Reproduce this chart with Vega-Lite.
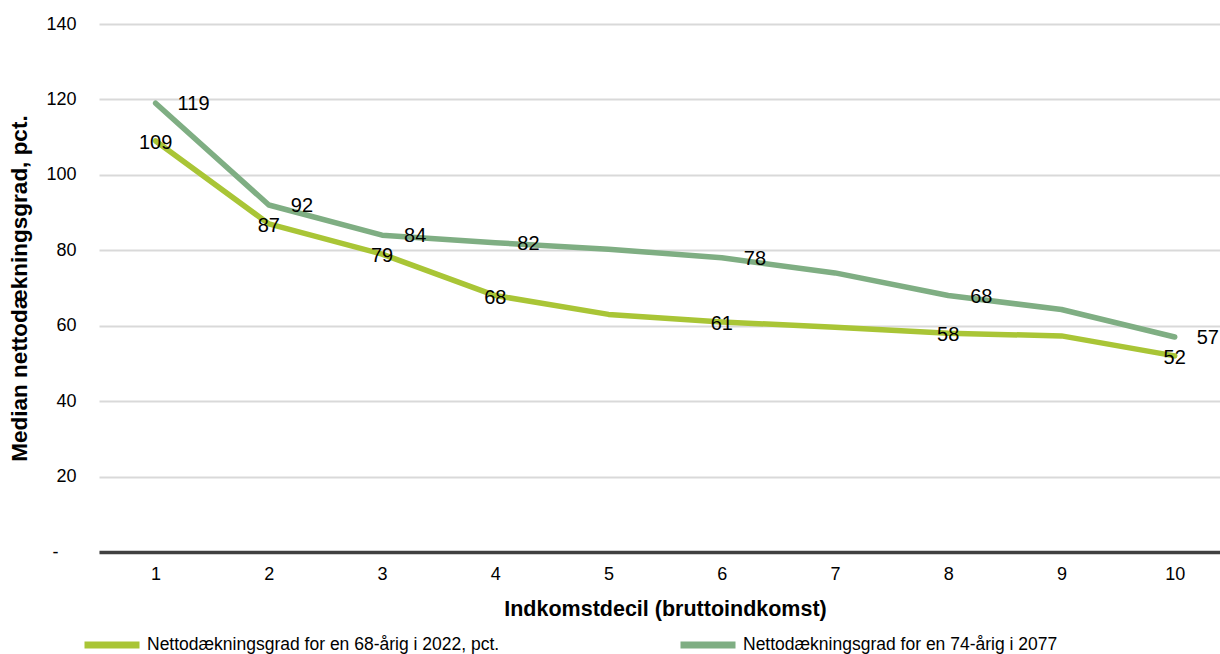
{
  "$schema": "https://vega.github.io/schema/vega-lite/v6.json",
  "autosize": {"type": "none"},
  "width": 1121,
  "height": 528,
  "padding": {"left": 99, "top": 24, "right": 0, "bottom": 102},
  "background": "white",
  "config": {
    "font": "Liberation Sans",
    "view": {"stroke": null}
  },
  "data": {
    "values": [
      {"decil": 1, "serie": "Nettodækningsgrad for en 68-årig i 2022, pct.", "vaerdi": 109},
      {"decil": 2, "serie": "Nettodækningsgrad for en 68-årig i 2022, pct.", "vaerdi": 87},
      {"decil": 3, "serie": "Nettodækningsgrad for en 68-årig i 2022, pct.", "vaerdi": 79},
      {"decil": 4, "serie": "Nettodækningsgrad for en 68-årig i 2022, pct.", "vaerdi": 68},
      {"decil": 5, "serie": "Nettodækningsgrad for en 68-årig i 2022, pct.", "vaerdi": 63},
      {"decil": 6, "serie": "Nettodækningsgrad for en 68-årig i 2022, pct.", "vaerdi": 61},
      {"decil": 7, "serie": "Nettodækningsgrad for en 68-årig i 2022, pct.", "vaerdi": 59.6},
      {"decil": 8, "serie": "Nettodækningsgrad for en 68-årig i 2022, pct.", "vaerdi": 58},
      {"decil": 9, "serie": "Nettodækningsgrad for en 68-årig i 2022, pct.", "vaerdi": 57.3},
      {"decil": 10, "serie": "Nettodækningsgrad for en 68-årig i 2022, pct.", "vaerdi": 52},
      {"decil": 1, "serie": "Nettodækningsgrad for en 74-årig i 2077", "vaerdi": 119},
      {"decil": 2, "serie": "Nettodækningsgrad for en 74-årig i 2077", "vaerdi": 92},
      {"decil": 3, "serie": "Nettodækningsgrad for en 74-årig i 2077", "vaerdi": 84},
      {"decil": 4, "serie": "Nettodækningsgrad for en 74-årig i 2077", "vaerdi": 82},
      {"decil": 5, "serie": "Nettodækningsgrad for en 74-årig i 2077", "vaerdi": 80.3},
      {"decil": 6, "serie": "Nettodækningsgrad for en 74-årig i 2077", "vaerdi": 78},
      {"decil": 7, "serie": "Nettodækningsgrad for en 74-årig i 2077", "vaerdi": 74},
      {"decil": 8, "serie": "Nettodækningsgrad for en 74-årig i 2077", "vaerdi": 68},
      {"decil": 9, "serie": "Nettodækningsgrad for en 74-årig i 2077", "vaerdi": 64.3},
      {"decil": 10, "serie": "Nettodækningsgrad for en 74-årig i 2077", "vaerdi": 57}
    ]
  },
  "encoding": {
    "x": {
      "field": "decil",
      "type": "quantitative",
      "scale": {"domain": [0.5, 10.4], "nice": false, "zero": false},
      "axis": {
        "values": [1, 2, 3, 4, 5, 6, 7, 8, 9, 10],
        "title": "Indkomstdecil (bruttoindkomst)",
        "titleFontSize": 21.5,
        "titleFontWeight": "bold",
        "titleColor": "#000000",
        "titlePadding": 15,
        "titleX": 566,
        "labelFontSize": 18,
        "labelColor": "#000000",
        "labelPadding": 13,
        "grid": false,
        "ticks": false,
        "domainColor": "#404040",
        "domainWidth": 3.5,
        "zindex": 1
      }
    },
    "y": {
      "field": "vaerdi",
      "type": "quantitative",
      "scale": {"domain": [0, 140], "nice": false},
      "axis": {
        "values": [0, 20, 40, 60, 80, 100, 120, 140],
        "labelExpr": "datum.value == 0 ? '-' : datum.label",
        "title": "Median nettodækningsgrad, pct.",
        "titleFontSize": 22.5,
        "titleFontWeight": "bold",
        "titleColor": "#000000",
        "titlePadding": 14,
        "labelFontSize": 18,
        "labelColor": "#000000",
        "labelPadding": {"condition": {"test": "datum.value == 0", "value": 41}, "value": 23},
        "ticks": false,
        "domain": false,
        "grid": true,
        "gridColor": "#d9d9d9",
        "gridWidth": 2
      }
    }
  },
  "layer": [
    {
      "mark": {"type": "line", "strokeWidth": 5.5, "strokeCap": "round", "strokeJoin": "round"},
      "encoding": {
        "color": {
          "field": "serie",
          "type": "nominal",
          "scale": {
            "domain": ["Nettodækningsgrad for en 68-årig i 2022, pct.", "Nettodækningsgrad for en 74-årig i 2077"],
            "range": ["#a9c536", "#7fae83"]
          },
          "legend": {
            "title": null,
            "orient": "none",
            "legendX": -18,
            "legendY": 590,
            "direction": "horizontal",
            "columns": 2,
            "columnPadding": 166,
            "padding": 0,
            "symbolType": "stroke",
            "symbolStrokeWidth": 7,
            "symbolSize": 3025,
            "labelFontSize": 17.5,
            "labelColor": "#000000",
            "labelOffset": 4,
            "labelLimit": 600
          }
        }
      }
    },
    {
      "transform": [
        {"filter": "datum.serie == 'Nettodækningsgrad for en 68-årig i 2022, pct.'"},
        {"filter": {"field": "decil", "oneOf": [1, 2, 3, 4, 6, 8, 10]}}
      ],
      "mark": {"type": "text", "fontSize": 20, "color": "#000000", "align": "center", "baseline": "middle", "dy": 2},
      "encoding": {"text": {"field": "vaerdi", "type": "quantitative", "format": ".0f"}}
    },
    {
      "transform": [
        {"filter": "datum.serie == 'Nettodækningsgrad for en 74-årig i 2077'"},
        {"filter": {"field": "decil", "oneOf": [1, 2, 3, 4, 6, 8, 10]}}
      ],
      "mark": {"type": "text", "fontSize": 20, "color": "#000000", "align": "left", "baseline": "middle", "dx": 22, "dy": 1},
      "encoding": {"text": {"field": "vaerdi", "type": "quantitative", "format": ".0f"}}
    }
  ]
}
